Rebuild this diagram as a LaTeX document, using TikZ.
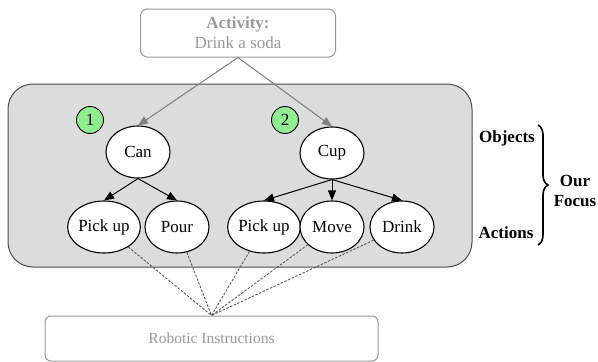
\documentclass[tikz,border=0pt]{standalone}
\usepackage{fontspec}
\setmainfont{Liberation Serif}
\usepackage{xcolor}
\usepackage{tikz}
\usetikzlibrary{shapes,arrows.meta,positioning,calc,decorations.pathreplacing}

\definecolor{softgray}{HTML}{999999}
\definecolor{panelgray}{HTML}{DCDCDC}
\definecolor{badgegreen}{HTML}{90EE90}

\begin{document}
\begin{tikzpicture}[
        x=1pt, y=-1pt,
        every node/.style={font=\fontsize{17}{20}\selectfont},
        item/.style={ellipse, draw, line width=1.1pt, fill=white, minimum width=64pt, minimum height=52pt, inner sep=0pt},
        badge/.style={circle, draw, line width=0.9pt, fill=badgegreen, minimum size=27pt, inner sep=0pt},
        softbox/.style={draw=softgray, line width=1pt, rounded corners=7pt, text=softgray},
        arrow/.style={-{Triangle[length=10pt, width=8pt]}, line width=1pt},
        grayarrow/.style={-{Triangle[length=10pt, width=8pt]}, line width=1pt, draw=gray, fill=gray},
        dotline/.style={dash pattern=on 2.5pt off 1.5pt, draw=black!65, line width=0.9pt},
        tag/.style={font=\fontsize{17}{20}\selectfont\bfseries}
    ]
    \useasboundingbox (0,0) rectangle (598,362);

    % shaded panel
    \draw[fill=panelgray, draw=black!70, line width=1pt, rounded corners=25pt] (8,84) rectangle (472,267);

    \node[softbox, minimum width=195pt, minimum height=48pt, align=center] (activity) at (238,33) {\textbf{Activity:}\\Drink a soda};
    \node[softbox, rounded corners=6pt, minimum width=333pt, minimum height=45pt, font=\fontsize{15.5}{18}\selectfont] (robot) at (211.5,338.5) {Robotic Instructions};

    \node[badge] (one) at (90,120) {1};
    \node[badge] (two) at (285,120) {2};

    \node[item] (can) at (138,152) {Can};
    \node[item] (cup) at (332,153) {Cup};

    \node[item] (pickcan) at (104,227) {Pick up};
    \node[item] (pour) at (177,227) {Pour};
    \node[item] (pickcup) at (264,227) {Pick up};
    \node[item] (move) at (332,227) {Move};
    \node[item] (drink) at (402,227) {Drink};

    \draw[grayarrow] (activity.south) -- (can.north);
    \draw[grayarrow] (activity.south) -- (cup.north);

    \draw[arrow] (can.south) -- (pickcan.north);
    \draw[arrow] (can.south) -- (pour.north);
    \draw[arrow] (cup.south) -- (pickcup.north);
    \draw[arrow] (cup.south) -- (move.north);
    \draw[arrow] (cup.south) -- (drink.north);

    \foreach \a in {pickcan,pour,pickcup,move,drink}
        \draw[dotline] (\a) -- (robot.north);

    % focus bracket
    \node[tag] (objects) at (507,138) {Objects};
    \node[tag] (actions) at (506,233) {Actions};
    \coordinate (brtop) at (538,125);
    \coordinate (brbot) at (538,245);
    \draw[decorate, decoration={brace, amplitude=10pt}, line width=1.6pt] (brtop) -- (brbot);
    \node[tag, align=center] (focus) at (575,191) {Our\\Focus};

\end{tikzpicture}
\end{document}
